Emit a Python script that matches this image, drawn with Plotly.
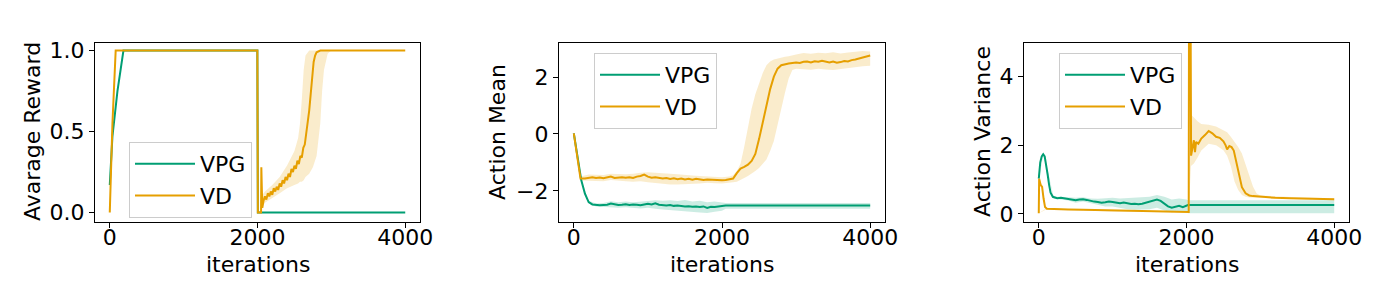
import plotly.graph_objects as go

GREEN = "#009E73"
ORANGE = "#E69F00"
GREEN_FILL = "rgba(0,158,115,0.2)"
ORANGE_FILL = "rgba(230,159,0,0.2)"

# ---------------- Panel 1: Avarage Reward ----------------
rew_vpg_it = [0, 36, 104, 185, 1998, 2005, 4000]
rew_vpg = [0.17, 0.47, 0.75, 1.0, 1.0, 0.0, 0.0]

rew_vd_it = [0, 36, 80, 1998, 2005, 2048, 2052, 2065,
             2080, 2100, 2120, 2140, 2160, 2180, 2200, 2220, 2240, 2260,
             2280, 2300, 2320, 2340, 2360, 2380, 2400, 2420, 2440, 2460,
             2480, 2500, 2520, 2540, 2560, 2580, 2600, 2620, 2640, 2660,
             2680, 2700, 2720, 2740, 2760, 2780, 2800, 2850, 4000]
rew_vd = [0.0, 0.55, 1.0, 1.0, 0.0, 0.0, 0.28, 0.03,
          0.07, 0.10, 0.08, 0.12, 0.10, 0.13, 0.11, 0.15, 0.13, 0.16,
          0.14, 0.18, 0.16, 0.20, 0.18, 0.22, 0.20, 0.24, 0.22, 0.27,
          0.25, 0.29, 0.27, 0.32, 0.30, 0.35, 0.34, 0.40, 0.42, 0.48,
          0.55, 0.63, 0.73, 0.84, 0.93, 0.97, 0.99, 1.0, 1.0]

rew_vd_band_it = [2050, 2100, 2200, 2300, 2400, 2500, 2550, 2575, 2600, 2625,
                  2650, 2700, 2750, 2800, 2850, 2875, 2900, 2950, 3000]
rew_vd_hi = [0.10, 0.13, 0.17, 0.22, 0.29, 0.38, 0.46, 0.55, 0.70, 0.88,
             0.97, 1.0, 1.0, 1.0, 1.0, 1.0, 1.0, 1.0, 1.0]
rew_vd_lo = [0.02, 0.06, 0.09, 0.12, 0.15, 0.17, 0.18, 0.19, 0.19, 0.20,
             0.22, 0.24, 0.28, 0.35, 0.55, 0.75, 0.88, 0.98, 1.0]

# ---------------- Panel 2: Action Mean ----------------
mean_vpg_it = [0, 50, 100, 150, 200, 250, 300, 350, 400, 450,
               500, 550, 600, 650, 700, 750, 800, 850, 900, 950,
               1000, 1050, 1100, 1150, 1200, 1250, 1300, 1350, 1400, 1450,
               1500, 1550, 1600, 1650, 1700, 1750, 1800, 1850, 1900, 1950,
               2000, 2050, 4000]
mean_vpg = [0.02, -0.80, -1.62, -2.10, -2.40, -2.48, -2.50, -2.51, -2.50, -2.49,
            -2.45, -2.48, -2.50, -2.49, -2.47, -2.50, -2.48, -2.49, -2.51, -2.48,
            -2.46, -2.48, -2.44, -2.49, -2.51, -2.52, -2.50, -2.53, -2.52, -2.54,
            -2.55, -2.54, -2.56, -2.55, -2.57, -2.55, -2.60, -2.56, -2.57, -2.55,
            -2.54, -2.52, -2.52]

mean_vpg_band_it = [0, 100, 200, 300, 400, 500, 600, 700, 800, 900,
                    1000, 1100, 1200, 1300, 1400, 1500, 1600, 1700, 1800, 1900,
                    2000, 2050, 4000]
mean_vpg_hi = [0.02, -1.60, -2.35, -2.45, -2.43, -2.37, -2.40, -2.38, -2.40, -2.39,
               -2.36, -2.33, -2.35, -2.33, -2.36, -2.32, -2.38, -2.35, -2.40, -2.38,
               -2.40, -2.43, -2.43]
mean_vpg_lo = [0.02, -1.64, -2.45, -2.55, -2.57, -2.58, -2.60, -2.58, -2.60, -2.62,
               -2.60, -2.63, -2.66, -2.68, -2.70, -2.74, -2.74, -2.76, -2.78, -2.74,
               -2.70, -2.63, -2.63]

mean_vd_it = [0, 50, 90, 150, 200, 250, 300, 350, 400, 450,
              500, 550, 600, 650, 700, 750, 800, 850, 900, 950,
              1000, 1050, 1100, 1150, 1200, 1250, 1300, 1350, 1400, 1450,
              1500, 1550, 1600, 1650, 1700, 1750, 1800, 1850, 1900, 1950,
              2000, 2050, 2100, 2150, 2200, 2250, 2300, 2350, 2400, 2450,
              2500, 2550, 2600, 2650, 2700, 2750, 2800, 2850, 2900, 2950,
              3000, 3050, 3100, 3150, 3200, 3250, 3300, 3350, 3400, 3450,
              3500, 3550, 3600, 3650, 3700, 3750, 3800, 3850, 3900, 3950,
              4000]
mean_vd = [0.02, -0.80, -1.57, -1.57, -1.55, -1.52, -1.55, -1.53, -1.56, -1.54,
           -1.50, -1.55, -1.53, -1.52, -1.54, -1.52, -1.55, -1.50, -1.48, -1.43,
           -1.50, -1.54, -1.52, -1.55, -1.57, -1.55, -1.58, -1.56, -1.59, -1.57,
           -1.60, -1.58, -1.61, -1.58, -1.60, -1.62, -1.60, -1.61, -1.63, -1.62,
           -1.63, -1.62, -1.60, -1.57, -1.38, -1.22, -1.16, -1.08, -0.95, -0.70,
           -0.18, 0.42, 1.02, 1.58, 2.02, 2.30, 2.42, 2.46, 2.48, 2.50,
           2.52, 2.50, 2.54, 2.55, 2.52, 2.56, 2.54, 2.58, 2.56, 2.52,
           2.55, 2.51, 2.53, 2.57, 2.55, 2.60, 2.62, 2.66, 2.68, 2.72,
           2.76]

mean_vd_band_it = [0, 90, 200, 300, 400, 500, 600, 700, 800, 900,
                   1000, 1100, 1200, 1300, 1400, 1500, 1600, 1700, 1800, 1900,
                   2000, 2100, 2150, 2200, 2250, 2300, 2350, 2400, 2450, 2500,
                   2550, 2600, 2650, 2700, 2750, 2800, 2850, 2900, 2950, 3000,
                   3100, 3200, 3300, 3400, 3500, 3600, 3700, 3800, 3900, 4000]
mean_vd_hi = [0.02, -1.50, -1.43, -1.43, -1.44, -1.40, -1.42, -1.42, -1.40, -1.36,
              -1.35, -1.36, -1.38, -1.40, -1.42, -1.45, -1.46, -1.48, -1.50, -1.52,
              -1.52, -1.50, -1.45, -1.30, -1.05, -0.45, 0.25, 0.90, 1.40, 1.80,
              2.15, 2.42, 2.55, 2.62, 2.66, 2.70, 2.72, 2.74, 2.78, 2.80,
              2.85, 2.82, 2.86, 2.84, 2.88, 2.83, 2.87, 2.90, 2.92, 2.90]
mean_vd_lo = [0.02, -1.64, -1.65, -1.66, -1.66, -1.62, -1.65, -1.66, -1.68, -1.66,
              -1.70, -1.72, -1.76, -1.78, -1.78, -1.77, -1.76, -1.74, -1.72, -1.73,
              -1.74, -1.72, -1.70, -1.68, -1.62, -1.55, -1.48, -1.40, -1.30, -1.20,
              -1.05, -0.90, -0.60, -0.25, 0.25, 0.85, 1.45, 1.95, 2.25, 2.30,
              2.28, 2.26, 2.30, 2.27, 2.25, 2.30, 2.32, 2.35, 2.38, 2.40]

# ---------------- Panel 3: Action Variance ----------------
var_vpg_it = [0, 20, 40, 60, 80, 100, 120, 140, 160, 190,
              250, 300, 350, 400, 450, 500, 550, 600, 650, 700,
              750, 800, 850, 900, 950, 1000, 1050, 1100, 1150, 1200,
              1250, 1300, 1350, 1400, 1450, 1500, 1550, 1600, 1650, 1700,
              1750, 1800, 1850, 1900, 1950, 2000, 2020, 4000]
var_vpg = [1.03, 1.50, 1.68, 1.74, 1.68, 1.45, 1.15, 0.85, 0.62, 0.50,
           0.46, 0.47, 0.45, 0.44, 0.42, 0.40, 0.42, 0.43, 0.41, 0.38,
           0.36, 0.35, 0.33, 0.34, 0.36, 0.35, 0.33, 0.31, 0.33, 0.30,
           0.29, 0.30, 0.28, 0.30, 0.33, 0.36, 0.40, 0.42, 0.38, 0.30,
           0.22, 0.18, 0.22, 0.24, 0.20, 0.25, 0.26, 0.26]

var_vpg_band_it = [0, 60, 100, 200, 300, 400, 500, 600, 700, 800,
                   900, 1000, 1100, 1200, 1300, 1400, 1500, 1600, 1700, 1800,
                   1900, 2000, 2020, 4000]
var_vpg_hi = [1.05, 1.76, 1.47, 0.50, 0.50, 0.49, 0.47, 0.49, 0.45, 0.44,
              0.46, 0.47, 0.45, 0.46, 0.47, 0.47, 0.50, 0.55, 0.50, 0.42,
              0.45, 0.42, 0.40, 0.40]
var_vpg_lo = [1.01, 1.70, 1.40, 0.44, 0.42, 0.39, 0.33, 0.36, 0.30, 0.26,
              0.22, 0.22, 0.17, 0.14, 0.12, 0.12, 0.14, 0.18, 0.10, 0.05,
              0.08, 0.06, 0.02, 0.02]

var_vd_it = [0, 5, 25, 45, 65, 85, 110, 200, 400, 600,
             800, 1000, 1200, 1400, 1600, 1800, 1950, 2030, 2038, 2046,
             2062, 2080, 2100, 2115, 2130, 2160, 2200, 2250, 2300, 2350,
             2400, 2450, 2500, 2530, 2550, 2580, 2610, 2640, 2660, 2680,
             2700, 2720, 2750, 2800, 2850, 2900, 3000, 3200, 3400, 3600,
             3800, 4000]
var_vd = [0.02, 1.03, 0.85, 0.79, 0.45, 0.20, 0.15, 0.14, 0.13, 0.12,
          0.11, 0.09, 0.08, 0.07, 0.07, 0.06, 0.05, 0.06, 12.0, 12.0,
          1.70, 1.95, 2.15, 1.80, 2.10, 2.05, 2.20, 2.30, 2.42, 2.35,
          2.25, 2.22, 2.12, 2.00, 1.88, 1.98, 1.95, 1.85, 1.65, 1.40,
          1.20, 1.00, 0.78, 0.60, 0.54, 0.52, 0.50, 0.47, 0.46, 0.45,
          0.44, 0.43]

var_vd_band_it = [0, 100, 500, 1000, 1500, 2000, 2030, 2060, 2100, 2150,
                  2200, 2300, 2400, 2500, 2550, 2600, 2650, 2700, 2750, 2800,
                  2850, 2900, 2950, 3000, 3500, 4000]
var_vd_hi = [0.02, 0.17, 0.14, 0.11, 0.09, 0.08, 0.08, 2.90, 2.80, 2.70,
             2.62, 2.60, 2.55, 2.45, 2.38, 2.25, 2.10, 1.95, 1.76, 1.45,
             1.10, 0.80, 0.60, 0.54, 0.49, 0.46]
var_vd_lo = [0.02, 0.13, 0.11, 0.07, 0.05, 0.04, 0.04, 1.40, 1.47, 1.65,
             1.85, 2.05, 2.00, 1.86, 1.70, 1.40, 0.95, 0.70, 0.55, 0.50,
             0.48, 0.47, 0.46, 0.45, 0.43, 0.40]

x_ticks = [0, 2000, 4000]
x_label = "iterations"
y_labels = ["Avarage Reward", "Action Mean", "Action Variance"]

FONT = "DejaVu Sans"
FS = 22
W, H = 1392, 292  # page body has an 8px margin inside the 1400x300 window

fig = go.Figure()


def band(it, lo, hi, color, ax):
    fig.add_trace(go.Scatter(
        x=list(it) + list(it)[::-1], y=list(hi) + list(lo)[::-1],
        fill="toself", fillcolor=color, line=dict(width=0), mode="lines",
        showlegend=False, hoverinfo="skip", xaxis="x" + ax, yaxis="y" + ax))


def line(it, v, color, name, ax, leg):
    fig.add_trace(go.Scatter(
        x=it, y=v, mode="lines", line=dict(color=color, width=2),
        name=name, xaxis="x" + ax, yaxis="y" + ax, legend=leg))


panels = [
    ("", "legend", (rew_vd_band_it, rew_vd_lo, rew_vd_hi), None,
     (rew_vpg_it, rew_vpg), (rew_vd_it, rew_vd)),
    ("2", "legend2", (mean_vd_band_it, mean_vd_lo, mean_vd_hi),
     (mean_vpg_band_it, mean_vpg_lo, mean_vpg_hi),
     (mean_vpg_it, mean_vpg), (mean_vd_it, mean_vd)),
    ("3", "legend3", (var_vd_band_it, var_vd_lo, var_vd_hi),
     (var_vpg_band_it, var_vpg_lo, var_vpg_hi),
     (var_vpg_it, var_vpg), (var_vd_it, var_vd)),
]

for ax, leg, vdb, vpgb, vpgl, vdl in panels:
    if vpgb is not None:
        band(*vpgb, GREEN_FILL, ax)
    band(*vdb, ORANGE_FILL, ax)
    line(*vpgl, GREEN, "VPG", ax, leg)
    line(*vdl, ORANGE, "VD", ax, leg)

axis_common = dict(
    showline=True, linecolor="black", linewidth=1.1, mirror=True,
    ticks="outside", ticklen=5, tickwidth=1.1, tickcolor="black",
    showgrid=False, zeroline=False, automargin=False,
    tickfont=dict(family=FONT, size=FS, color="black"),
)

# plot-area pixel boxes (left, right) in figure coordinates
x_px = [(87, 412), (551, 877), (1016, 1341)]
y_top_px, y_bot_px = 34.5, 213.5
y_ranges = [[-0.055, 1.05], [-3.08, 3.22], [-0.22, 5.0]]
y_ticks = [[0, 0.5, 1.0], [-2, 0, 2], [0, 2, 4]]
y_fmt = [".1f", "d", "d"]
y_title_px = [25, 490, 975]

layout = dict(
    width=W, height=H,
    margin=dict(l=0, r=0, t=0, b=0, autoexpand=False),
    paper_bgcolor="white", plot_bgcolor="white",
    font=dict(family=FONT, size=FS, color="black"),
    hovermode=False,
)

annotations = []
for i, ax in enumerate(["", "2", "3"]):
    l, r = x_px[i]
    layout["xaxis" + ax] = dict(
        axis_common, domain=[l / W, r / W], range=[-200, 4200],
        tickvals=x_ticks, anchor="y" + ax, ticklabelstandoff=-9,
    )
    layout["yaxis" + ax] = dict(
        axis_common, domain=[1 - y_bot_px / H, 1 - y_top_px / H], range=y_ranges[i],
        tickvals=y_ticks[i], tickformat=y_fmt[i], anchor="x" + ax,
    )
    annotations.append(dict(
        text=x_label, xref="paper", yref="paper", x=(l + r) / 2 / W, y=1 - 256 / H,
        xanchor="center", yanchor="middle", showarrow=False,
        font=dict(family=FONT, size=FS, color="black")))
    annotations.append(dict(
        text=y_labels[i], xref="paper", yref="paper", x=y_title_px[i] / W,
        y=1 - (y_top_px + y_bot_px) / 2 / H, textangle=-90,
        xanchor="center", yanchor="middle", showarrow=False,
        font=dict(family=FONT, size=FS, color="black")))
layout["annotations"] = annotations

legend_px = [(121, 134), (586, 45), (1051, 45)]
for i, leg in enumerate(["legend", "legend2", "legend3"]):
    layout[leg] = dict(
        x=legend_px[i][0] / W, y=1 - legend_px[i][1] / H, xanchor="left", yanchor="top",
        bgcolor="rgba(255,255,255,0.8)", bordercolor="#cccccc", borderwidth=1,
        font=dict(family=FONT, size=FS, color="black"), itemwidth=60,
    )

fig.update_layout(**layout)
fig.write_html("out.html")
